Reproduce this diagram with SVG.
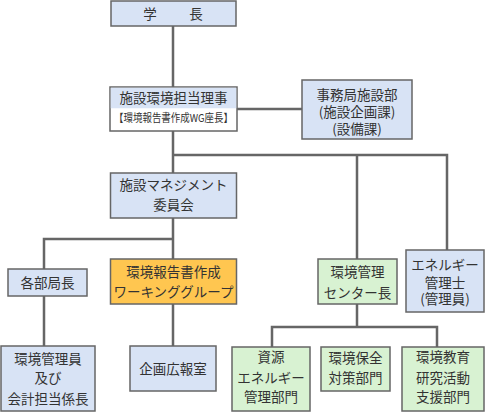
<svg xmlns="http://www.w3.org/2000/svg" width="485" height="412" viewBox="0 0 485 412">
<style>
.b{fill:#d8e3f5;stroke:#666;stroke-width:1.5}
.g{fill:#d8f2d2;stroke:#666;stroke-width:1.5}
.o{fill:#ffc650;stroke:#666;stroke-width:1.5}
.w{fill:#fff;stroke:#666;stroke-width:1.5}
.c{fill:none;stroke:#666;stroke-width:2.5}
text{font-family:"Noto Sans CJK JP","Noto Sans",sans-serif;font-size:13.5px;fill:#333;text-anchor:middle}
.s{font-size:11px}
</style>
<rect width="485" height="412" fill="#fff"/>
<g id="connectors">
<path class="c" d="M173,26V87M237,109H302M173,131V173M173,155H447V250M357,155V259M173,218V259M173,239H44V269M44,296V346M173,304V346M357,304V327M272,347V327H437V347"/>
</g>
<g id="gakucho"><rect class="b" x="111" y="1" width="125" height="25"/><text x="150" y="19">学</text><text x="196" y="19">長</text></g>
<g id="riji"><rect class="w" x="110" y="87" width="127" height="44"/><rect x="110.75" y="87.75" width="125.5" height="20.5" fill="#d8e3f5"/><text x="173.5" y="102.5">施設環境担当理事</text><text class="s" x="173.5" y="121.5" textLength="119" lengthAdjust="spacingAndGlyphs">【環境報告書作成WG座長】</text></g>
<g id="jimukyoku"><rect class="b" x="302" y="80" width="110" height="59"/><text x="357" y="100">事務局施設部</text><text x="357" y="117">(施設企画課)</text><text x="357" y="133.5">(設備課)</text></g>
<g id="iinkai"><rect class="b" x="110.5" y="173" width="126" height="45"/><text x="173.5" y="190">施設マネジメント</text><text x="173.5" y="210">委員会</text></g>
<g id="bukyokucho"><rect class="b" x="8" y="269" width="79" height="27"/><text x="47.5" y="288">各部局長</text></g>
<g id="wg"><rect class="o" x="110.5" y="259" width="126" height="45"/><text x="173.5" y="277">環境報告書作成</text><text x="173.5" y="297">ワーキンググループ</text></g>
<g id="kanrin"><rect class="b" x="1" y="346" width="94" height="65"/><text x="48" y="363.5">環境管理員</text><text x="48" y="383">及び</text><text x="48" y="404">会計担当係長</text></g>
<g id="koho"><rect class="b" x="130" y="346" width="86" height="45"/><text x="173" y="374">企画広報室</text></g>
<g id="center"><rect class="g" x="318" y="259" width="79" height="45"/><text x="357.5" y="277">環境管理</text><text x="357.5" y="298">センター長</text></g>
<g id="energy"><rect class="b" x="406" y="250" width="78" height="62"/><text x="445" y="270">エネルギー</text><text x="445" y="287.5">管理士</text><text x="445" y="304">(管理員)</text></g>
<g id="shigen"><rect class="g" x="232" y="347" width="78" height="64"/><text x="271" y="362">資源</text><text x="271" y="382.5">エネルギー</text><text x="271" y="402">管理部門</text></g>
<g id="hozen"><rect class="g" x="321" y="347" width="69" height="44"/><text x="355.5" y="363">環境保全</text><text x="355.5" y="383">対策部門</text></g>
<g id="kyoiku"><rect class="g" x="402" y="347" width="82" height="64"/><text x="443" y="362">環境教育</text><text x="443" y="382.5">研究活動</text><text x="443" y="402">支援部門</text></g>
</svg>
